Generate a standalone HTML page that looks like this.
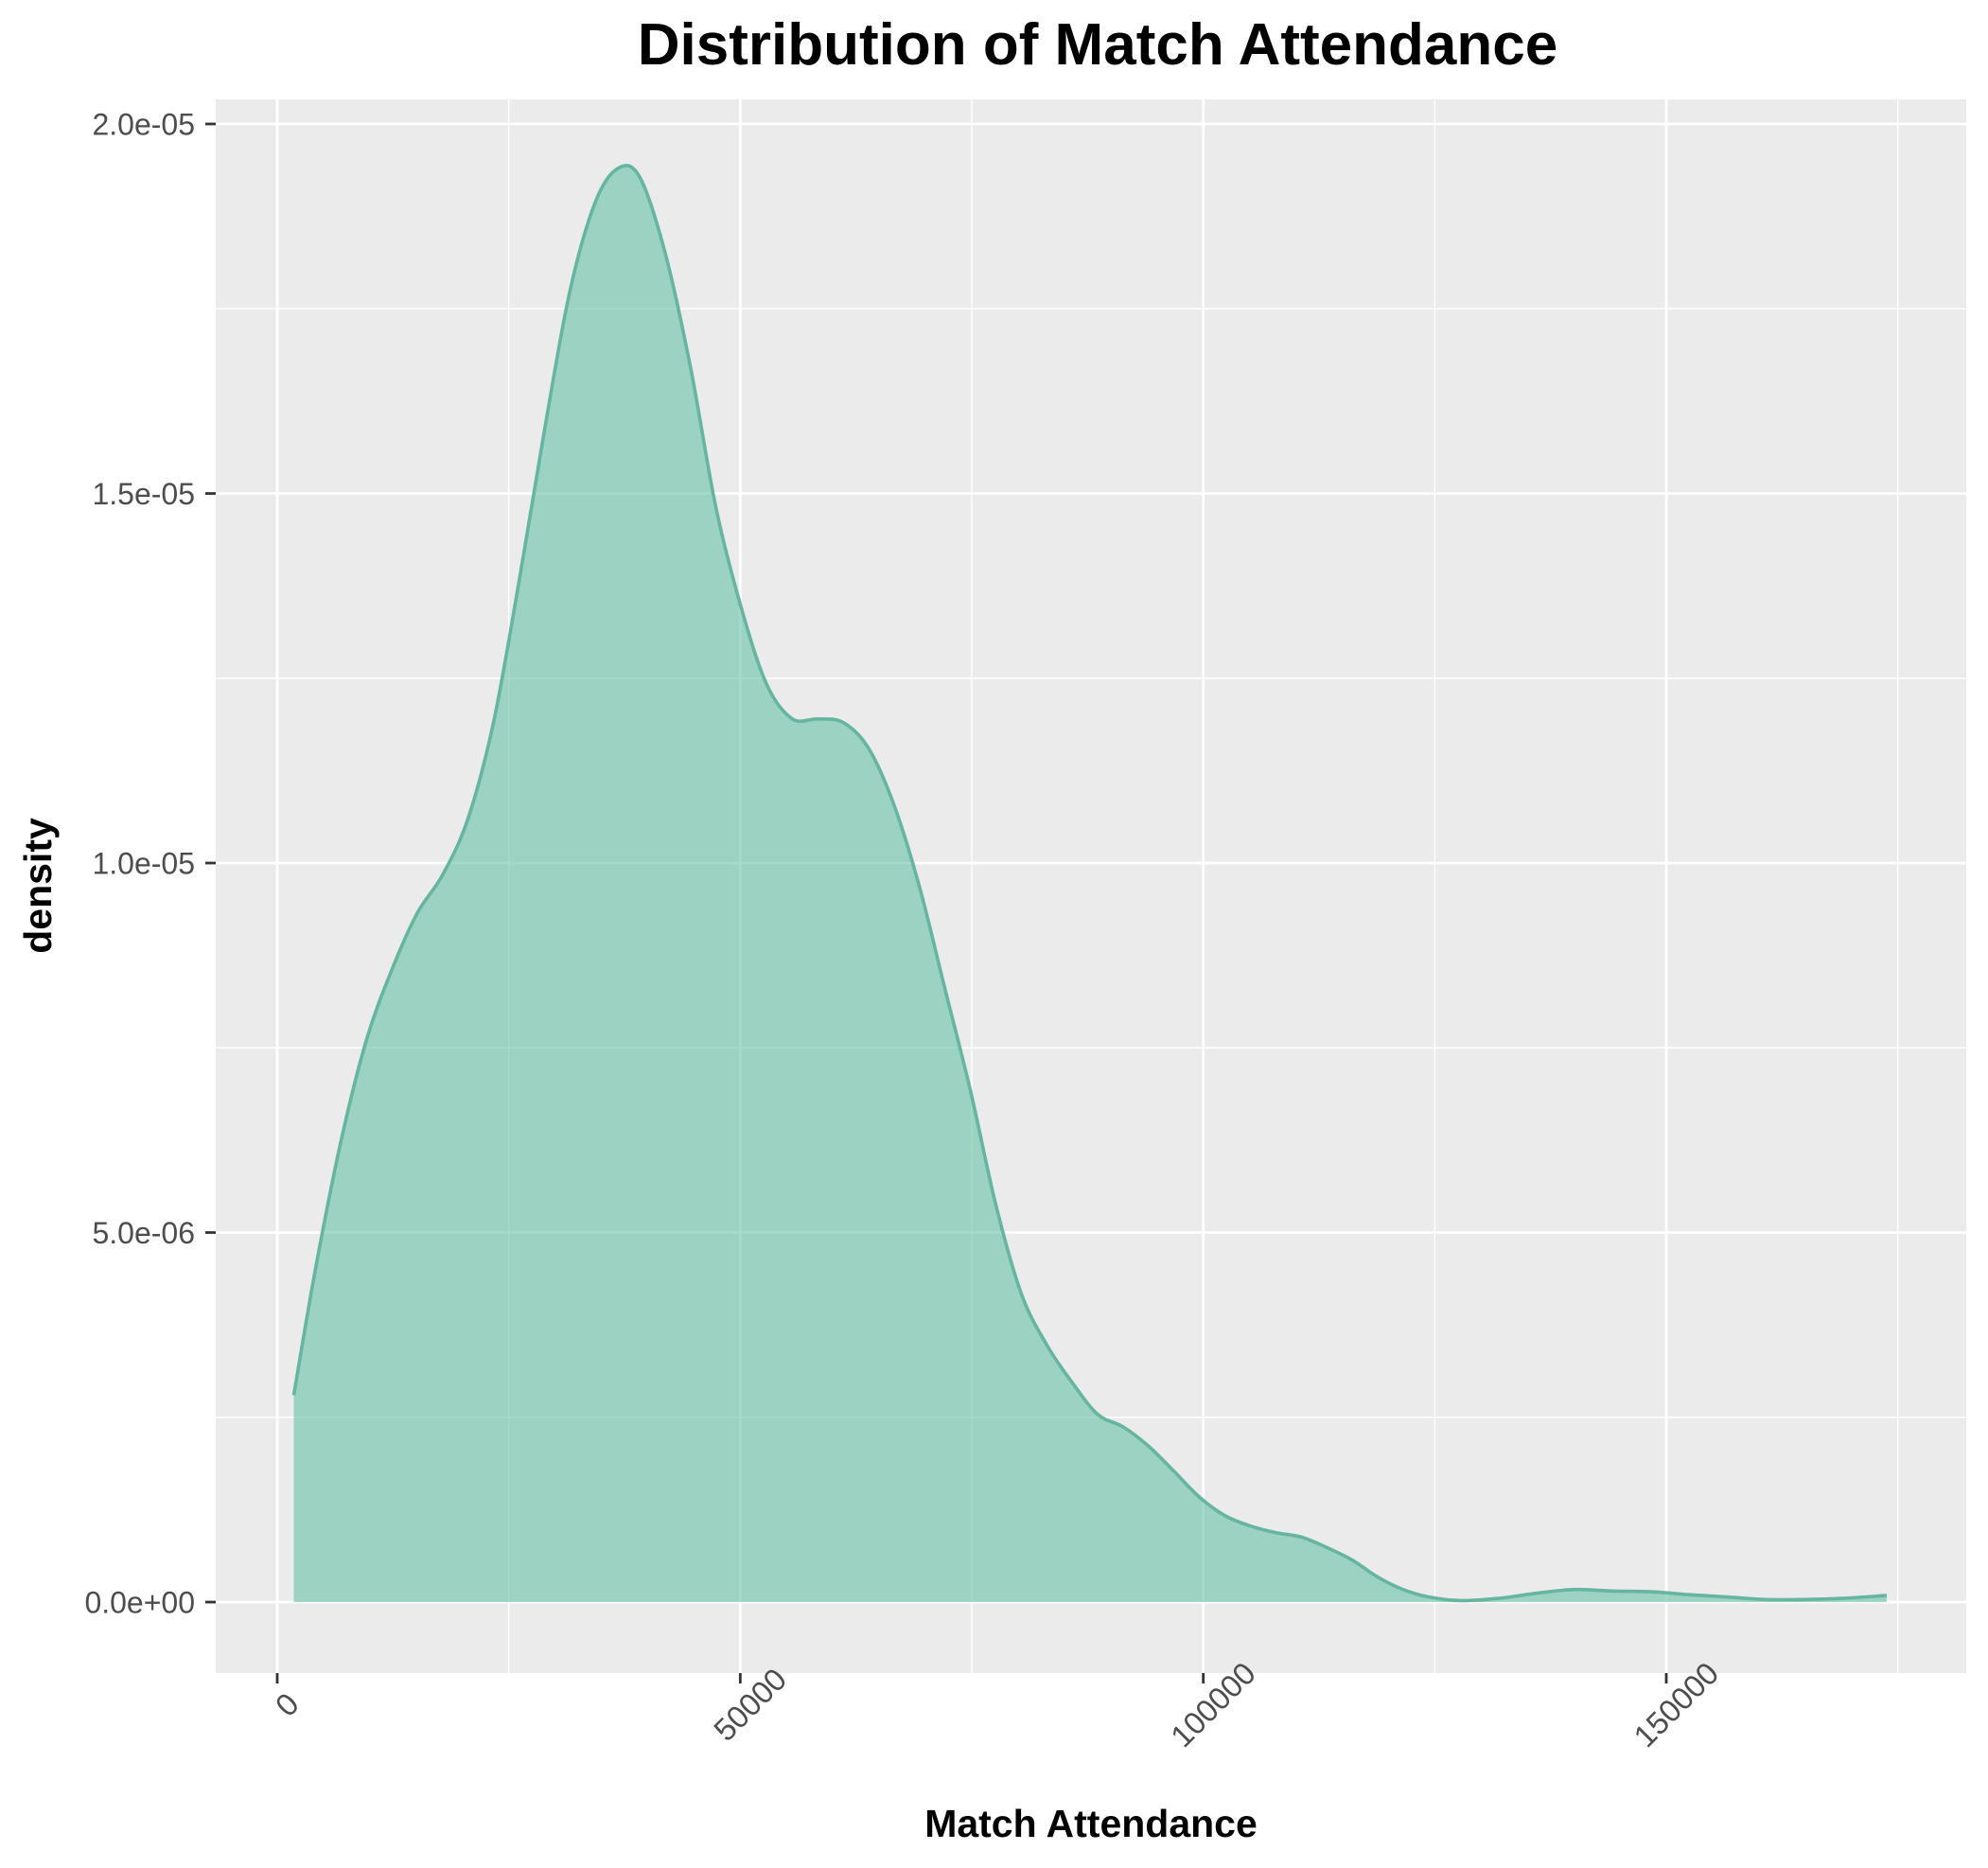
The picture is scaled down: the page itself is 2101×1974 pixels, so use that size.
<!DOCTYPE html>
<html><head><meta charset="utf-8"><style>
html,body{margin:0;padding:0;background:#fff;}
svg{display:block;font-family:"Liberation Sans",Arial,sans-serif;}
</style></head><body>
<svg id="chart" width="2101" height="1974" viewBox="0 0 2101 1974" xmlns="http://www.w3.org/2000/svg">
<rect x="0" y="0" width="2101" height="1974" fill="#fff"/>
<rect x="228" y="105" width="1850" height="1663" fill="#ebebeb"/>
<g id="grid"></g>
<g id="series"></g>
<g id="axes"></g>
<text x="1160" y="68" text-anchor="middle" font-size="62" font-weight="bold" fill="#000">Distribution of Match Attendance</text>
<text x="1153" y="1941" text-anchor="middle" font-size="41" font-weight="bold" fill="#000">Match Attendance</text>
<text transform="translate(54,936) rotate(-90)" text-anchor="middle" font-size="41" font-weight="bold" fill="#000">density</text>
</svg>
<script>
const attendance = [1786,4120,6870,9620,12360,15110,17860,20600,23350,26100,28850,31590,34340,36810,39150,41900,44640,47390,50140,52880,55630,58380,61130,63870,66620,69370,72120,74860,77610,80360,83100,85850,88600,91350,94090,96840,99590,102340,105080,107830,110580,113320,116070,118820,121570,124310,127750,131870,135990,140110,144230,148350,152470,156590,160710,164840,168960,173800];
const densityE6 = [2.80,4.5,6.23,7.6,8.55,9.32,9.84,10.6,11.9,13.8,15.85,17.73,18.94,19.4,19.28,18.25,16.7,14.8,13.44,12.41,11.95,11.95,11.9,11.55,10.78,9.67,8.29,6.92,5.37,4.17,3.48,2.97,2.54,2.37,2.11,1.77,1.42,1.17,1.03,0.94,0.88,0.74,0.57,0.34,0.17,0.07,0.02,0.05,0.12,0.17,0.15,0.14,0.10,0.07,0.035,0.035,0.05,0.09];
const xTicks = [0,50000,100000,150000];
const xTickLabels = ["0","50000","100000","150000"];
const xMinor = [25000,75000,125000,175000];
const yTicks = [0,5,10,15,20];
const yTickLabels = ["0.0e+00","5.0e-06","1.0e-05","1.5e-05","2.0e-05"];
const yMinor = [2.5,7.5,12.5,17.5];

const NS = "http://www.w3.org/2000/svg";
const PL = 228, PR = 2078, PT = 105, PB = 1768;
function sx(v){ return 293 + (v - 0) * (1761 - 293) / 150000; }
function sy(v){ return 1693 - v * (1693 - 131) / 20; }
function mk(tag, attrs, parent){
  const e = document.createElementNS(NS, tag);
  for (const k in attrs) e.setAttribute(k, attrs[k]);
  parent.appendChild(e); return e;
}
const grid = document.getElementById('grid');
const series = document.getElementById('series');
const axes = document.getElementById('axes');

xMinor.forEach(v => {
  const l = mk('line', {x1:sx(v), x2:sx(v), y1:PT, y2:PB, stroke:'#fff', 'stroke-width':1.4}, grid);
  
  
});
yMinor.forEach(v => {
  const l = mk('line', {x1:PL, x2:PR, y1:sy(v), y2:sy(v), stroke:'#fff', 'stroke-width':1.4}, grid);
  
  
});
xTicks.forEach((v, i) => {
  const l = mk('line', {x1:sx(v), x2:sx(v), y1:PT, y2:PB, stroke:'#fff', 'stroke-width':2.8}, grid);
  
  
  const t = mk('line', {x1:sx(v), x2:sx(v), y1:PB, y2:PB+11, stroke:'#333', 'stroke-width':2.8}, axes);
  
  
  const tx = mk('text', {transform:'translate(' + (sx(v)+10) + ',' + (PB+33) + ') rotate(-45)', 'text-anchor':'middle', dy:'0.36em', 'font-size':33, fill:'#4d4d4d'}, axes);
  tx.textContent = xTickLabels[i];
  
  
});
yTicks.forEach((v, i) => {
  const l = mk('line', {x1:PL, x2:PR, y1:sy(v), y2:sy(v), stroke:'#fff', 'stroke-width':2.8}, grid);
  
  
  const t = mk('line', {x1:PL-11, x2:PL, y1:sy(v), y2:sy(v), stroke:'#333', 'stroke-width':2.8}, axes);
  
  
  const tx = mk('text', {x:PL-22, y:sy(v)+11.5, 'text-anchor':'end', 'font-size':32, fill:'#4d4d4d'}, axes);
  tx.textContent = yTickLabels[i];
  
  
});

const pts = attendance.map((a, i) => [sx(a), sy(densityE6[i])]);
let d = 'M' + pts[0][0] + ',' + pts[0][1];
for (let i = 0; i < pts.length - 1; i++) {
  const p0 = pts[Math.max(0, i-1)], p1 = pts[i], p2 = pts[i+1], p3 = pts[Math.min(pts.length-1, i+2)];
  const c1x = p1[0] + (p2[0]-p0[0])/6, c1y = p1[1] + (p2[1]-p0[1])/6;
  const c2x = p2[0] - (p3[0]-p1[0])/6, c2y = p2[1] - (p3[1]-p1[1])/6;
  d += ' C' + c1x + ',' + c1y + ' ' + c2x + ',' + c2y + ' ' + p2[0] + ',' + p2[1];
}
const last = pts[pts.length-1], first = pts[0];
const area = mk('path', {d: d + ' L' + last[0] + ',' + sy(0) + ' L' + first[0] + ',' + sy(0) + ' Z', fill:'#66c2a5', 'fill-opacity':0.6, stroke:'none'}, series);


const line = mk('path', {d: d, fill:'none', stroke:'#66b5a0', 'stroke-width':3.6}, series);


</script>
</body></html>
